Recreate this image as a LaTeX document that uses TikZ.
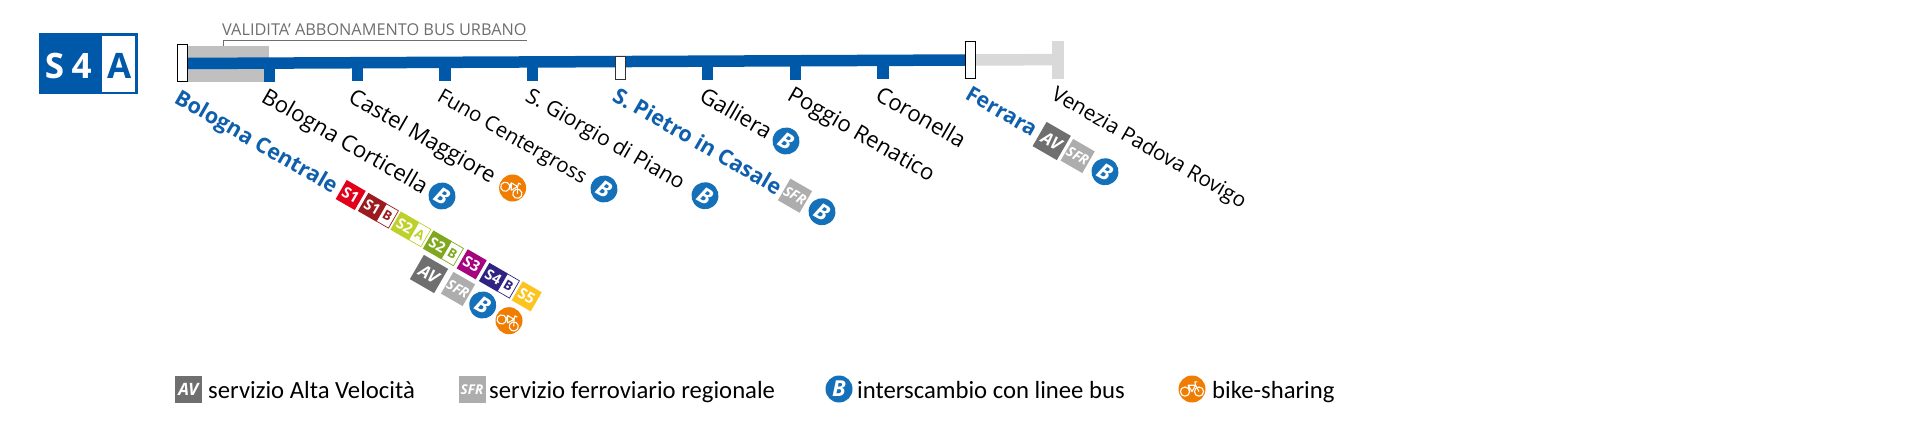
\documentclass[tikz,border=0pt]{standalone}
\usepackage{fontspec}
\setmainfont{Open Sans}
\newfontfamily\legfont{Carlito}
\definecolor{lineblue}{HTML}{0059A8}
\definecolor{txtblue}{HTML}{0F5FAD}
\definecolor{cblue}{HTML}{1470B8}
\definecolor{corange}{HTML}{F07D00}
\definecolor{avgrey}{HTML}{6F6F6F}
\definecolor{sfrgrey}{HTML}{ADADAD}
\definecolor{bandgrey}{HTML}{C0C0C0}
\definecolor{palegrey}{HTML}{D9D9D9}
\definecolor{capgrey}{HTML}{6E6E6E}
\definecolor{cSa}{HTML}{E2001A}
\definecolor{cSb}{HTML}{9B1B1E}
\definecolor{cSc}{HTML}{BED12B}
\definecolor{cSd}{HTML}{7FA81F}
\definecolor{cSe}{HTML}{A6037E}
\definecolor{cSf}{HTML}{2E2382}
\definecolor{cSg}{HTML}{FDC31E}
\newcommand{\fsz}[1]{\fontsize{#1}{#1}\selectfont}
\tikzset{
  stopbox/.style={draw=black,fill=white,line width=1pt,inner sep=0pt,minimum width=10pt,minimum height=37pt},
  midbox/.style={draw=black!80,fill=white,line width=1pt,inner sep=0pt,minimum width=10pt,minimum height=23pt},
  ticknode/.style={fill=lineblue,inner sep=0pt,minimum width=11.5pt,minimum height=18pt,anchor=south},
  stlabel/.style={anchor=base west,rotate=-30,font=\fsz{22.2},inner sep=0pt},
  hublabel/.style={stlabel,text=txtblue,font=\fsz{21.5}\bfseries},
  legtext/.style={anchor=base west,inner sep=0pt,font=\legfont\fsz{24.7}},
  badgetext/.style={text=white,inner sep=0pt},
  iconcircle/.style={circle,inner sep=0pt,minimum size=27pt},
}
\newcommand{\avbadge}[5]{\node[badgetext,fill=avgrey,rotate=#4,minimum size=#5pt,font=\fsz{17}\bfseries\itshape] (#1) at (#2,#3) {AV};}
\newcommand{\sfrbadge}[5]{\node[badgetext,fill=sfrgrey,rotate=#4,minimum size=#5pt,font=\fsz{14}\bfseries\itshape] (#1) at (#2,#3) {SFR};}
\newcommand{\busicon}[4]{\node[iconcircle,fill=cblue,text=white,rotate=#4,font=\fsz{22}\bfseries\itshape] (#1) at (#2,#3) {B};}
\newcommand{\bikeicon}[4]{%
  \node[iconcircle,fill=corange] (#1) at (#2,#3) {};
  \begin{scope}[shift={(#1.center)},rotate=#4,draw=white,line width=1.1pt,line join=round]
    \draw (-7,2.6) circle[radius=4.6pt];
    \draw (7,2.6) circle[radius=4.6pt];
    \draw (-2.5,2.6) -- (-3.8,-3.8) -- (3.6,-3.8) -- (7,2.6) (-3.8,-3.8) -- (0,2.6) -- (3.6,-3.8) (3.6,-3.8) -- (2.8,-7.2) -- (5.4,-7.2);
  \end{scope}}
\newcommand{\linesq}[5]{\node[fill=#5,text=white,rotate=-30,minimum size=22pt,inner sep=0pt,font=\fsz{15}\bfseries] (#1) at (#2,#3) {#4};}
\newcommand{\linepill}[6]{%
  \begin{scope}[shift={(#2,#3)},rotate=-30]
    \node[draw=#6,fill=white,text=#6,line width=.7pt,inner sep=0pt,minimum width=14pt,minimum height=20pt,transform shape,font=\fsz{13}\bfseries] (#1b) at (10.5,0) {#5};
    \node[fill=#6,text=white,inner sep=0pt,minimum width=21pt,minimum height=21pt,transform shape,font=\fsz{14.5}\bfseries] (#1a) at (-7,0) {#4};
  \end{scope}}
\begin{document}
\begin{tikzpicture}[x=1pt,y=-1pt]
\useasboundingbox (0,0) rectangle (1920,430);
% logo
\node[fill=lineblue,inner sep=0pt,minimum width=99pt,minimum height=61pt] (logo) at (88.2,64) {};
\node[fill=white,inner sep=0pt,minimum width=33.5pt,minimum height=56pt] (logoA) at (118.4,64) {};
\node[text=white,inner sep=0pt,font=\fsz{35}\bfseries] (logoS) at (54.5,66) {S};
\node[text=white,inner sep=0pt,font=\fsz{35}\bfseries] (logo4) at (81.7,66) {4};
\node[text=lineblue,inner sep=0pt,font=\fsz{35}\bfseries] (logoa) at (119.2,66) {A};
% validity band
\node[fill=bandgrey,inner sep=0pt,minimum width=82pt,minimum height=36pt,anchor=north west] (band) at (187,46) {};
\node[anchor=base west,inner sep=0pt,text=capgrey,font=\fsz{16.3}] (valid) at (222,36) {VALIDITA’ ABBONAMENTO BUS URBANO};
\coordinate (brA) at (223,46);
\coordinate (brB) at (223,40.5);
\coordinate (brC) at (527,40.5);
\draw[capgrey,line width=.9pt] (brA) -- (brB) -- (brC);
% stations
\node[ticknode] (t1) at (269.7,82) {};
\node[ticknode] (t2) at (357.3,81.7) {};
\node[ticknode] (t3) at (444.9,81.4) {};
\node[ticknode] (t4) at (532.5,81) {};
\node[ticknode] (t6) at (707.7,80.3) {};
\node[ticknode] (t7) at (795.5,80) {};
\node[ticknode] (t8) at (883,79.7) {};
\node[fill=palegrey,inner sep=0pt,minimum width=12pt,minimum height=38pt] (end) at (1058,59.6) {};
\node[stopbox] (bo) at (182,63.5) {};
\node[stopbox] (fe) at (970.5,60) {};
\draw[palegrey,line width=11.5pt] (fe.center) -- (end.center);
\draw[lineblue,line width=11.5pt] (bo.center) -- (fe.center);
\node[stopbox] (bo) at (182,63.5) {};
\node[midbox] (sp) at (620.3,68.3) {};
\node[stopbox] (fe) at (970.5,60) {};
% labels
\node[hublabel] (lBo) at (173,102) {Bologna Centrale};
\node[stlabel] (lCo) at (260,101) {Bologna Corticella};
\node[stlabel] (lCa) at (347,101) {Castel Maggiore};
\node[stlabel,font=\fsz{20.5}] (lFu) at (436,100) {Funo Centergross};
\node[stlabel,font=\fsz{21.2}] (lGi) at (524,100) {S. Giorgio di Piano};
\node[hublabel,font=\fsz{21.6}\bfseries] (lPi) at (611,100) {S. Pietro in Casale};
\node[stlabel] (lGa) at (698,100) {Galliera};
\node[stlabel] (lPo) at (786,99) {Poggio Renatico};
\node[stlabel] (lCr) at (874,99) {Coronella};
\node[hublabel,font=\fsz{21.3}\bfseries] (lFe) at (964,98) {Ferrara};
\node[stlabel,font=\fsz{20.8}] (lVe) at (1050,98) {Venezia Padova Rovigo};
% icons along stations
\busicon{bCo}{442}{196}{-30}
\bikeicon{kCa}{512.6}{188}{-30}
\busicon{bFu}{604}{189}{-30}
\busicon{bGi}{705}{195.7}{-30}
\busicon{bGa}{786}{141}{-30}
\sfrbadge{sPi}{795}{195.7}{-30}{25}
\busicon{bPi}{822}{211.7}{-30}
\avbadge{aFe}{1051.7}{141}{-30}{28}
\sfrbadge{sFe}{1077.7}{156}{-30}{25}
\busicon{bFe}{1105}{171.7}{-30}
% Bologna Centrale
\linesq{lS1}{350.7}{195}{S1}{cSa}
\linepill{lS1B}{378.3}{210.7}{S1}{B}{cSb}
\linepill{lS2A}{410.7}{229.3}{S2}{A}{cSc}
\linepill{lS2B}{443.3}{248.3}{S2}{B}{cSd}
\linesq{lS3}{471.7}{264.3}{S3}{cSe}
\linepill{lS4B}{499.3}{280.7}{S4}{B}{cSf}
\linesq{lS5}{526.7}{296.3}{S5}{cSg}
\avbadge{aBo}{429}{274}{-30}{28}
\sfrbadge{sBo}{458}{289}{-30}{25}
\busicon{bBo}{482.7}{305}{-30}
\bikeicon{kBo}{509}{320.7}{-30}
% legend
\node[fill=avgrey,text=white,inner sep=0pt,minimum size=27pt,font=\fsz{17}\bfseries\itshape] (legAV) at (188.5,389.5) {AV};
\node[legtext] (legAVt) at (208,398) {servizio Alta Velocità};
\node[fill=sfrgrey,text=white,inner sep=0pt,minimum size=27pt,font=\fsz{13.5}\bfseries\itshape] (legSF) at (472,389.5) {SFR};
\node[legtext] (legSFt) at (489,398) {servizio ferroviario regionale};
\busicon{legB}{839}{389}{0}
\node[legtext] (legBt) at (857,398) {interscambio con linee bus};
\bikeicon{legK}{1192}{389}{0}
\node[legtext] (legKt) at (1212,398) {bike-sharing};
\end{tikzpicture}
\end{document}
